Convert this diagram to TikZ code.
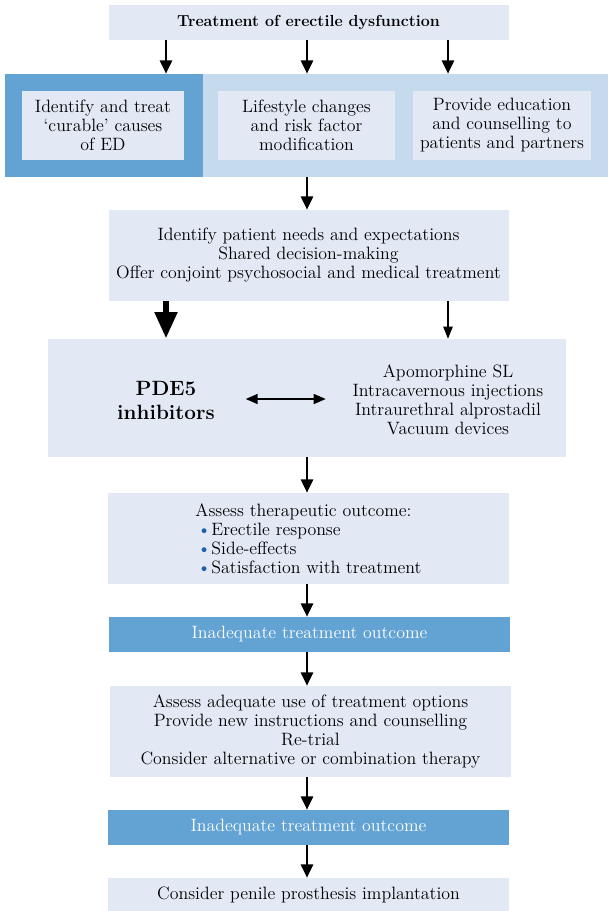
\documentclass[tikz,border=0pt]{standalone}
\usetikzlibrary{arrows.meta}
\definecolor{boxfill}{HTML}{E2E9F5}
\definecolor{bandfill}{HTML}{C6DAEE}
\definecolor{darkband}{HTML}{62A3D4}
\definecolor{bulblue}{HTML}{1F5FA6}
\newcommand{\txt}{\fontsize{13.4}{14.25}\selectfont}
\newcommand{\bul}{\makebox[12pt][l]{\hspace{1.5pt}\color{bulblue}\textbullet}}
\tikzset{
  pale/.style={fill=boxfill, inner sep=0pt, align=center, font=\txt},
  band/.style={inner sep=0pt, minimum height=77.25pt},
  warn/.style={fill=darkband, text=white, inner sep=0pt, minimum width=300.75pt, minimum height=26.25pt, font=\txt},
  arr/.style={line width=2pt, -{Triangle[length=10pt,width=9pt]}},
}
\begin{document}
\begin{tikzpicture}[x=0.75pt,y=-0.75pt]
    \useasboundingbox (0,0) rectangle (608,911);
    \coordinate (cl) at (166,0);
    \coordinate (cm) at (307,0);
    \coordinate (cr) at (448,0);
    % top part
    \node[pale, minimum width=300pt, minimum height=26.25pt, font=\fontsize{12}{14}\selectfont\bfseries] (title) at (308.5,22.5) {Treatment of erectile dysfunction};
    \node[band, fill=darkband, minimum width=148.5pt] (bandl) at (104,125.5) {};
    \node[band, fill=bandfill, minimum width=303.75pt] (bandr) at (405.5,125.5) {};
    \node[pale, minimum width=121.5pt, minimum height=51.75pt] (cause) at (103,125.5) {Identify and treat\\`curable' causes\\of ED};
    \node[pale, minimum width=132.75pt, minimum height=51.75pt] (life) at (306.5,125.5) {Lifestyle changes\\and risk factor\\modification};
    \node[pale, minimum width=133.5pt, minimum height=51.75pt] (educ) at (502,125.5) {Provide education\\and counselling to\\patients and partners};
    \draw[arr] (title.south -| cl) -- (bandl.north -| cl);
    \draw[arr] (title.south -| cm) -- (bandr.north -| cm);
    \draw[arr] (title.south -| cr) -- (bandr.north -| cr);
    % needs
    \node[pale, minimum width=300pt, minimum height=68.25pt] (needs) at (308.5,255.5) {Identify patient needs and expectations\\Shared decision-making\\Offer conjoint psychosocial and medical treatment};
    \draw[arr] (bandr.south -| cm) -- (needs.north -| cm);
    % first line options
    \node[pale, minimum width=388.5pt, minimum height=88.5pt] (opts) at (307,398) {};
    \node[font=\fontsize{15.5}{18}\selectfont\bfseries, align=center, inner sep=0pt] (pde) at (166,400) {PDE5\\inhibitors};
    \node[font=\txt, align=center, inner sep=0pt] (alt) at (448,400) {Apomorphine SL\\Intracavernous injections\\Intraurethral alprostadil\\Vacuum devices};
    \draw[line width=5pt, -{Triangle[length=20pt,width=16pt]}] (needs.south -| cl) -- (opts.north -| cl);
    \draw[line width=0.8pt, -{Triangle[length=9pt,width=7pt]}] (needs.south -| cr) -- (opts.north -| cr);
    \draw[line width=1.1pt, {Triangle[length=9pt,width=7.5pt]}-{Triangle[length=9pt,width=7.5pt]}, shorten <=23pt, shorten >=20pt] (pde.east |- 0,399) -- (alt.west |- 0,399);
    % outcome
    \node[pale, minimum width=300.75pt, minimum height=68.25pt, align=left] (assess) at (308.5,538.5) {Assess therapeutic outcome:\\\bul Erectile response\\\bul Side-effects\\\bul Satisfaction with treatment};
    \draw[arr] (opts.south -| cm) -- (assess.north -| cm);
    \node[warn] (bad1) at (309.5,634.5) {Inadequate treatment outcome};
    \draw[arr] (assess.south -| cm) -- (bad1.north -| cm);
    \node[pale, minimum width=300.75pt, minimum height=68.25pt] (retry) at (310.5,731.5) {Assess adequate use of treatment options\\Provide new instructions and counselling\\Re-trial\\Consider alternative or combination therapy};
    \draw[arr] (bad1.south -| cm) -- (retry.north -| cm);
    \node[warn] (bad2) at (308.5,827.5) {Inadequate treatment outcome};
    \draw[arr] (retry.south -| cm) -- (bad2.north -| cm);
    \node[pale, minimum width=300.75pt, minimum height=24.75pt] (prost) at (308.5,894.5) {Consider penile prosthesis implantation};
    \draw[arr] (bad2.south -| cm) -- (prost.north -| cm);
\end{tikzpicture}
\end{document}
